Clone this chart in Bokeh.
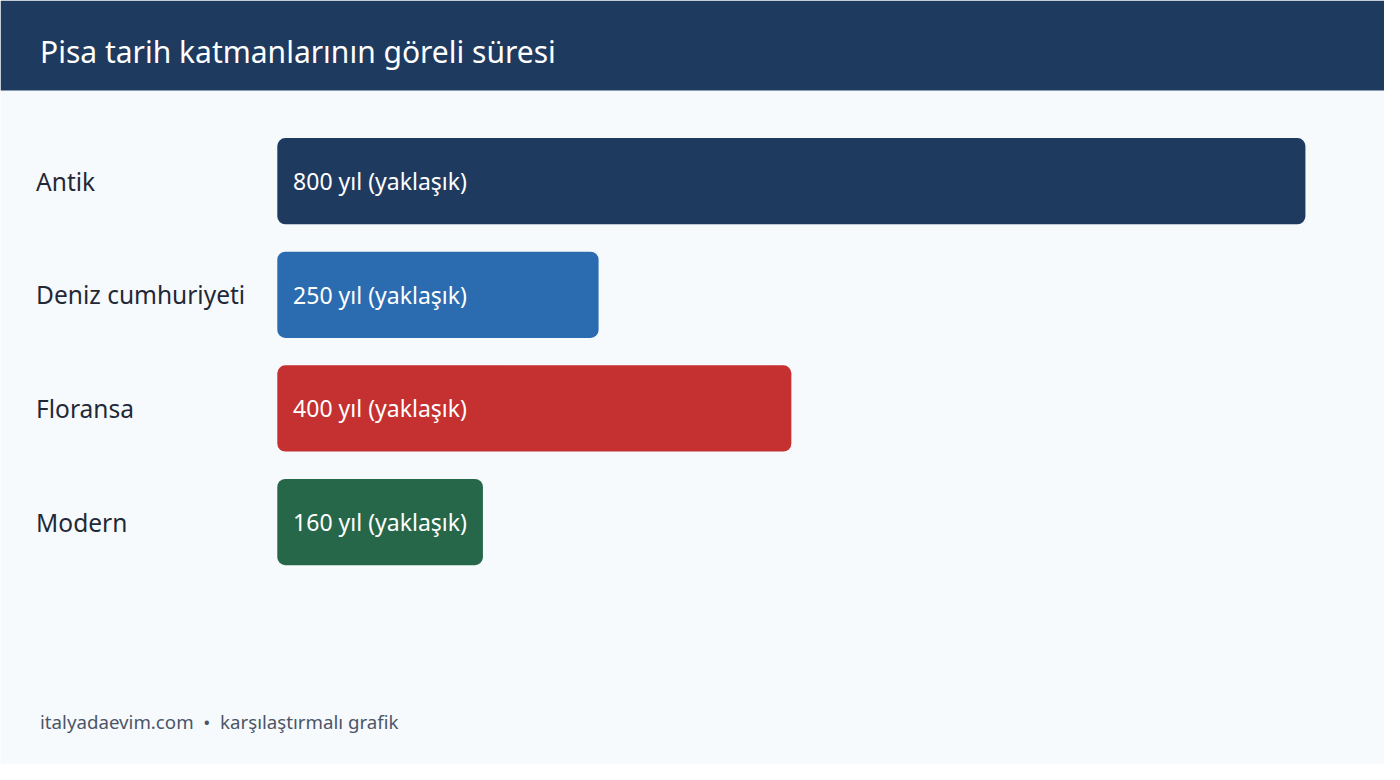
from bokeh.plotting import figure
from bokeh.models import Range1d, ColumnDataSource
from bokeh.core.properties import value
from bokeh.embed import file_html
from bokeh.resources import INLINE

categories = ["Antik", "Deniz cumhuriyeti", "Floransa", "Modern"]
years = [800, 250, 400, 160]
bar_labels = ["800 yıl (yaklaşık)", "250 yıl (yaklaşık)", "400 yıl (yaklaşık)", "160 yıl (yaklaşık)"]
colors = ["#1F3A5F", "#2B6CB0", "#C53030", "#276749"]
title_text = "Pisa tarih katmanlarının göreli süresi"
footer_text = "italyadaevim.com\u00a0\u00a0•\u00a0\u00a0karşılaştırmalı grafik"

W, H = 1384, 764
REF_W, REF_H = 1400, 780
FONT = "Noto Sans"

# layout expressed in a 1400x780 reference frame, drawn on a W x H figure
bar_left, bar_right_max = 280, 1320
first_center, pitch, bar_h = 184.5, 116, 88
px_per_year = (bar_right_max - bar_left) / max(years)
x0 = -bar_left / px_per_year
x1 = x0 + REF_W / px_per_year

p = figure(width=W, height=H, output_backend="svg", toolbar_location=None,
           x_range=Range1d(x0, x1), y_range=Range1d(REF_H, 0),
           min_border=0, outline_line_color=None,
           background_fill_color="#F7FAFC", border_fill_color="#F7FAFC")
p.axis.visible = False
p.grid.visible = False
p.extra_x_ranges = {"px": Range1d(0, REF_W)}

# header band
p.quad(left=[0], right=[REF_W], top=[0], bottom=[92], x_range_name="px",
       fill_color="#1F3A5F", line_color=None)
p.text(x=[40], y=[52], text=[title_text], x_range_name="px",
       text_font=value(FONT), text_font_size="30px", text_color="#FFFFFF",
       text_baseline="middle", text_align="left")

ys = [first_center + i * pitch for i in range(len(categories))]
src = ColumnDataSource(dict(cat=categories, years=years, lab=bar_labels, color=colors, y=ys))

p.hbar(y="y", left=0, right="years", height=bar_h, source=src,
       fill_color="color", line_color=None, border_radius=8)

p.text(x=36, y="y", text="cat", source=src, x_range_name="px",
       text_font=value(FONT), text_font_size="24.5px", text_color="#1F2937",
       text_baseline="middle", text_align="left")
p.text(x=296, y="y", text="lab", source=src, x_range_name="px",
       text_font=value(FONT), text_font_size="23px", text_color="#FFFFFF",
       text_baseline="middle", text_align="left")

p.text(x=[40], y=[736], text=[footer_text], x_range_name="px",
       text_font=value(FONT), text_font_size="18.7px", text_color="#4A5568",
       text_baseline="middle", text_align="left")

open("out.html", "w").write(file_html(p, INLINE))
